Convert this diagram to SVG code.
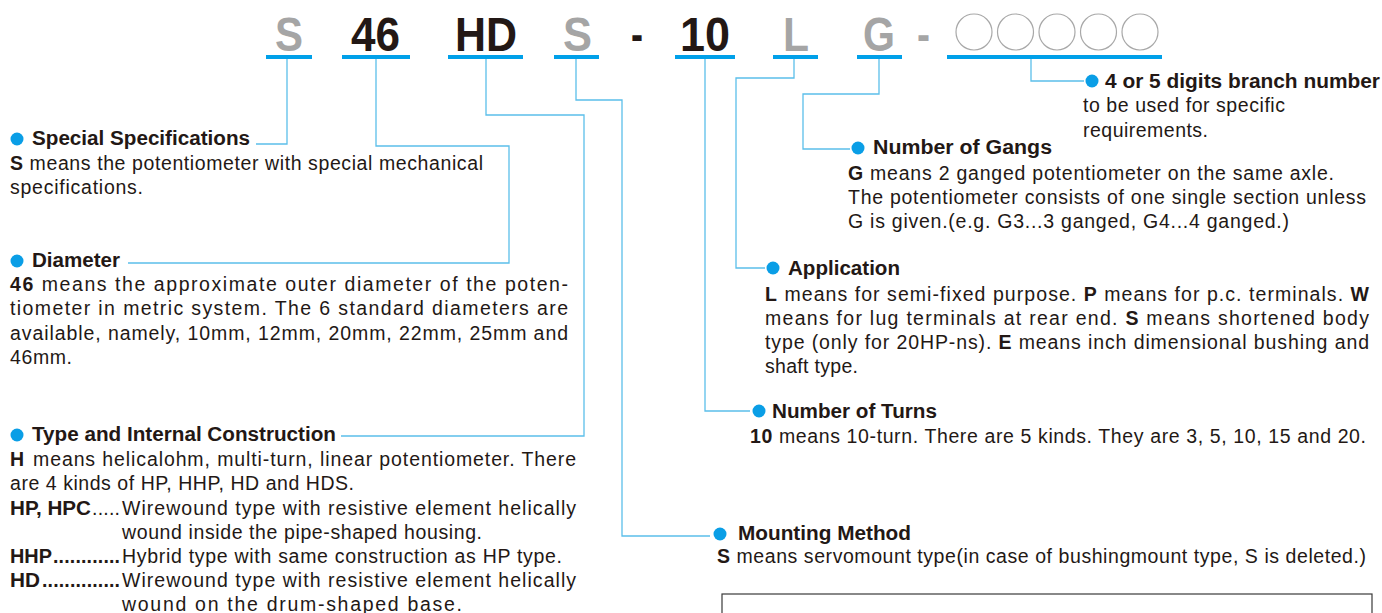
<svg xmlns="http://www.w3.org/2000/svg" width="1382" height="613" viewBox="0 0 1382 613">
<style>
.code{font-family:"Liberation Sans",Arial,sans-serif;font-weight:bold;font-size:48px}
.dk{fill:#231815}
.gy{fill:#a5a5a5}
.ul{stroke:#00a0e9;stroke-width:4;fill:none}
.cn{stroke:#5bbfea;stroke-width:1.3;fill:none}
.hd{font-family:"Liberation Sans",Arial,sans-serif;font-weight:bold;font-size:20px;fill:#231815}
.tx{font-family:"Liberation Sans",Arial,sans-serif;font-size:19.5px;fill:#231815}
.b{font-weight:bold}
.dot{fill:#0a9ee6}
.circ{fill:none;stroke:#a8a8a8;stroke-width:1.2}
</style>
<rect width="1382" height="613" fill="#ffffff"/>

<g id="code">
<text class="code gy" x="275" y="51" textLength="28" lengthAdjust="spacingAndGlyphs">S</text>
<text class="code dk" x="351" y="51" textLength="49" lengthAdjust="spacingAndGlyphs">46</text>
<text class="code dk" x="455" y="51" textLength="62" lengthAdjust="spacingAndGlyphs">HD</text>
<text class="code gy" x="563" y="51" textLength="29" lengthAdjust="spacingAndGlyphs">S</text>
<text class="code dk" x="631" y="51" textLength="12" lengthAdjust="spacingAndGlyphs">-</text>
<text class="code dk" x="680" y="51" textLength="50" lengthAdjust="spacingAndGlyphs">10</text>
<text class="code gy" x="783" y="51" textLength="26" lengthAdjust="spacingAndGlyphs">L</text>
<text class="code gy" x="863" y="51" textLength="32" lengthAdjust="spacingAndGlyphs">G</text>
<text class="code gy" x="917" y="51" textLength="13" lengthAdjust="spacingAndGlyphs">-</text>
<circle class="circ" cx="974" cy="32" r="18"/>
<circle class="circ" cx="1015.5" cy="32" r="18"/>
<circle class="circ" cx="1057" cy="32" r="18"/>
<circle class="circ" cx="1098.5" cy="32" r="18"/>
<circle class="circ" cx="1140" cy="32" r="18"/>
<line class="ul" x1="266" y1="57" x2="312" y2="57"/>
<line class="ul" x1="342" y1="57" x2="410" y2="57"/>
<line class="ul" x1="448" y1="57" x2="523" y2="57"/>
<line class="ul" x1="554" y1="57" x2="599" y2="57"/>
<line class="ul" x1="675" y1="57" x2="735" y2="57"/>
<line class="ul" x1="773" y1="57" x2="818" y2="57"/>
<line class="ul" x1="857" y1="57" x2="902" y2="57"/>
<line class="ul" x1="947" y1="57" x2="1162" y2="57"/>
</g>

<g id="connectors">
<polyline class="cn" points="287,59 287,144 256,144"/>
<polyline class="cn" points="376,59 376,146 509,146 509,263 128,263"/>
<polyline class="cn" points="486,59 486,115 584,115 584,436 341,436"/>
<polyline class="cn" points="576,59 576,100 622,100 622,536 710,536"/>
<polyline class="cn" points="705,59 705,411 750,411"/>
<polyline class="cn" points="794,59 794,78 736,78 736,268 765,268"/>
<polyline class="cn" points="879,59 879,94 803,94 803,149 850,149"/>
<polyline class="cn" points="1031,59 1031,81 1084,81"/>
</g>

<g id="special-specifications">
<circle class="dot" cx="17" cy="139" r="6.5"/>
<text class="hd" x="32" y="145" textLength="218" lengthAdjust="spacingAndGlyphs">Special Specifications</text>
<text class="tx" x="10" y="170" textLength="473"><tspan class="b">S</tspan> means the potentiometer with special mechanical</text>
<text class="tx" x="10" y="194" textLength="133">specifications.</text>
</g>

<g id="diameter">
<circle class="dot" cx="17" cy="261" r="6.5"/>
<text class="hd" x="32" y="267" textLength="88" lengthAdjust="spacingAndGlyphs">Diameter</text>
<text class="tx" x="10" y="291" textLength="558"><tspan class="b">46</tspan> means the approximate outer diameter of the poten-</text>
<text class="tx" x="10" y="315" textLength="558">tiometer in metric system. The 6 standard diameters are</text>
<text class="tx" x="10" y="340" textLength="558">available, namely, 10mm, 12mm, 20mm, 22mm, 25mm and</text>
<text class="tx" x="10" y="364" textLength="62">46mm.</text>
</g>

<g id="type-construction">
<circle class="dot" cx="17" cy="435" r="6.5"/>
<text class="hd" x="32" y="441" textLength="304" lengthAdjust="spacingAndGlyphs">Type and Internal Construction</text>
<text class="tx b" x="10" y="466">H</text>
<text class="tx" x="33" y="466" textLength="543">means helicalohm, multi-turn, linear potentiometer. There</text>
<text class="tx" x="10" y="490" textLength="344">are 4 kinds of HP, HHP, HD and HDS.</text>
<text class="tx b" x="10" y="515" textLength="81" lengthAdjust="spacingAndGlyphs">HP, HPC</text>
<text class="tx" x="92" y="515" textLength="28">.....</text>
<text class="tx" x="122" y="515" textLength="454">Wirewound type with resistive element helically</text>
<text class="tx" x="122" y="539" textLength="360">wound inside the pipe-shaped housing.</text>
<text class="tx b" x="10" y="563" textLength="42" lengthAdjust="spacingAndGlyphs">HHP</text>
<text class="tx b" x="53" y="563" textLength="67">............</text>
<text class="tx" x="122" y="563" textLength="440">Hybrid type with same construction as HP type.</text>
<text class="tx b" x="10" y="587" textLength="30" lengthAdjust="spacingAndGlyphs">HD</text>
<text class="tx b" x="42" y="587" textLength="78">..............</text>
<text class="tx" x="122" y="587" textLength="454">Wirewound type with resistive element helically</text>
<text class="tx" x="122" y="611" textLength="340">wound on the drum-shaped base.</text>
</g>

<g id="branch-number">
<circle class="dot" cx="1092" cy="81" r="6.5"/>
<text class="hd" x="1105" y="88" textLength="275" lengthAdjust="spacingAndGlyphs">4 or 5 digits branch number</text>
<text class="tx" x="1083" y="112" textLength="202">to be used for specific</text>
<text class="tx" x="1083" y="137" textLength="125">requirements.</text>
</g>

<g id="number-of-gangs">
<circle class="dot" cx="858" cy="148" r="6.5"/>
<text class="hd" x="873" y="154" textLength="179" lengthAdjust="spacingAndGlyphs">Number of Gangs</text>
<text class="tx" x="848" y="180" textLength="486"><tspan class="b">G</tspan> means 2 ganged potentiometer on the same axle.</text>
<text class="tx" x="848" y="204" textLength="518">The potentiometer consists of one single section unless</text>
<text class="tx" x="848" y="228" textLength="441">G is given.(e.g. G3...3 ganged, G4...4 ganged.)</text>
</g>

<g id="application">
<circle class="dot" cx="773" cy="268" r="6.5"/>
<text class="hd" x="788" y="275" textLength="112" lengthAdjust="spacingAndGlyphs">Application</text>
<text class="tx" x="765" y="301" textLength="604"><tspan class="b">L</tspan> means for semi-fixed purpose. <tspan class="b">P</tspan> means for p.c. terminals. <tspan class="b">W</tspan></text>
<text class="tx" x="765" y="325" textLength="604">means for lug terminals at rear end. <tspan class="b">S</tspan> means shortened body</text>
<text class="tx" x="765" y="349" textLength="604">type (only for 20HP-ns). <tspan class="b">E</tspan> means inch dimensional bushing and</text>
<text class="tx" x="765" y="373" textLength="93">shaft type.</text>
</g>

<g id="number-of-turns">
<circle class="dot" cx="759" cy="411" r="6.5"/>
<text class="hd" x="772" y="418" textLength="165" lengthAdjust="spacingAndGlyphs">Number of Turns</text>
<text class="tx" x="750" y="443" textLength="616"><tspan class="b">10</tspan> means 10-turn. There are 5 kinds. They are 3, 5, 10, 15 and 20.</text>
</g>

<g id="mounting-method">
<circle class="dot" cx="720" cy="534" r="6.5"/>
<text class="hd" x="738" y="540" textLength="173" lengthAdjust="spacingAndGlyphs">Mounting Method</text>
<text class="tx" x="717" y="563" textLength="649"><tspan class="b">S</tspan> means servomount type(in case of bushingmount type, S is deleted.)</text>
</g>

<g id="box">
<rect x="722" y="594" width="650" height="40" fill="none" stroke="#3a3a3a" stroke-width="1.2"/>
</g>
</svg>
